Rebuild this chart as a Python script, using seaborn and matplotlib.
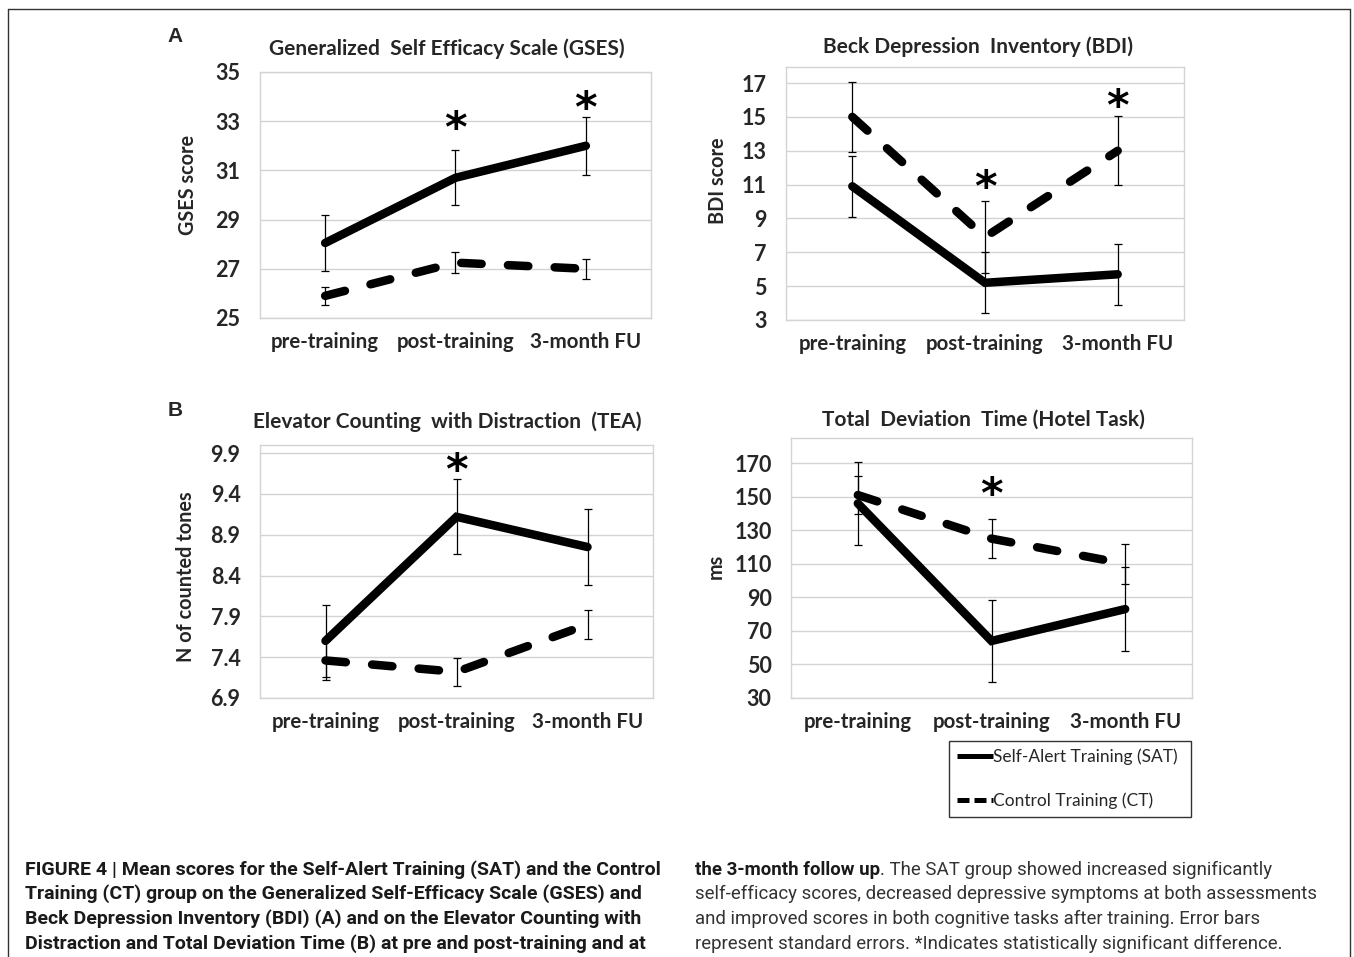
import matplotlib
matplotlib.use("Agg")
import matplotlib.pyplot as plt
from matplotlib.lines import Line2D
from matplotlib import font_manager
import seaborn as sns
import pandas as pd
import numpy as np

# ---------------- data ----------------
phases = ["pre-training", "post-training", "3-month FU"]
groups = ["Self-Alert Training (SAT)", "Control Training (CT)"]

gses_sat = [28.05, 30.7, 32.0]
gses_sat_err = [1.15, 1.12, 1.17]
gses_ct = [25.9, 27.25, 27.0]
gses_ct_err = [0.38, 0.42, 0.40]

bdi_sat = [10.9, 5.2, 5.7]
bdi_sat_err = [1.8, 1.8, 1.8]
bdi_ct = [15.0, 7.9, 13.0]
bdi_ct_err = [2.05, 2.15, 2.05]

tea_sat = [7.6, 9.12, 8.75]
tea_sat_err = [0.44, 0.46, 0.46]
tea_ct = [7.36, 7.22, 7.8]
tea_ct_err = [0.24, 0.17, 0.18]

hotel_sat = [146, 64, 83]
hotel_sat_err = [24.5, 24.5, 25.0]
hotel_ct = [151, 125, 110]
hotel_ct_err = [11.5, 11.5, 12.0]

titles = ["Generalized  Self Efficacy Scale (GSES)", "Beck Depression  Inventory (BDI)",
          "Elevator Counting  with Distraction  (TEA)", "Total  Deviation  Time (Hotel Task)"]
ylabels = ["GSES score", "BDI score", "N of counted tones", "ms"]
yticks_list = [[25, 27, 29, 31, 33, 35], [3, 5, 7, 9, 11, 13, 15, 17],
               [6.9, 7.4, 7.9, 8.4, 8.9, 9.4, 9.9], [30, 50, 70, 90, 110, 130, 150, 170]]
ytick_labels = [["25", "27", "29", "31", "33", "35"], ["3", "5", "7", "9", "11", "13", "15", "17"],
                ["6.9", "7.4", "7.9", "8.4", "8.9", "9.4", "9.9"],
                ["30", "50", "70", "90", "110", "130", "150", "170"]]
ylims = [(25, 35), (3, 17.95), (6.9, 10.0), (30, 185)]
# significance stars: (panel, phase index, y value)
stars = [(0, 1, 33.05), (0, 2, 33.85), (1, 1, 11.3), (1, 2, 16.1), (2, 1, 9.79), (3, 1, 156)]

caption_left = ["FIGURE 4 | Mean scores for the Self-Alert Training (SAT) and the Control",
                "Training (CT) group on the Generalized Self-Efficacy Scale (GSES) and",
                "Beck Depression Inventory (BDI) (A) and on the Elevator Counting with",
                "Distraction and Total Deviation Time (B) at pre and post-training and at"]
caption_right_bold = "the 3-month follow up"
caption_right = [". The SAT group showed increased significantly",
                 "self-efficacy scores, decreased depressive symptoms at both assessments",
                 "and improved scores in both cognitive tasks after training. Error bars",
                 "represent standard errors. *Indicates statistically significant difference."]

panels = [
    (gses_sat, gses_sat_err, gses_ct, gses_ct_err),
    (bdi_sat, bdi_sat_err, bdi_ct, bdi_ct_err),
    (tea_sat, tea_sat_err, tea_ct, tea_ct_err),
    (hotel_sat, hotel_sat_err, hotel_ct, hotel_ct_err),
]

# ---------------- style ----------------
sns.set_theme(style="white")
avail = {f.name for f in font_manager.fontManager.ttflist}
main_font = "Lato" if "Lato" in avail else "DejaVu Sans"
cap_font = "Liberation Sans Narrow" if "Liberation Sans Narrow" in avail else (
    "Roboto" if "Roboto" in avail else "DejaVu Sans")
plt.rcParams["font.family"] = [main_font, "DejaVu Sans"]

W, H = 1354, 957
fig = plt.figure(figsize=(W / 100, H / 100), dpi=100)
fig.patch.set_facecolor("white")


def fx(x):
    return x / W


def fy(y):
    return 1 - y / H


# axes boxes in pixels: left, top, right, bottom
boxes = [(260, 72, 651, 318), (786, 67, 1184, 320), (260, 445, 653, 698), (791, 438, 1192, 698)]
title_pos = [(447, 49), (978, 47), (447, 422), (983, 420)]
ylabel_pos = [(188, 185), (718, 181), (186, 577), (716, 566)]

lw_px = 8.5
lw = lw_px * 72 / 100
grid_col = "#d3d3d3"

for i, (box, data) in enumerate(zip(boxes, panels)):
    l, t, r, b = box
    ax = fig.add_axes([fx(l), fy(b), (r - l) / W, (b - t) / H])
    sat, sat_e, ct, ct_e = data
    df = pd.DataFrame({
        "phase": phases * 2,
        "value": list(sat) + list(ct),
        "group": [groups[0]] * 3 + [groups[1]] * 3,
    })
    sns.lineplot(data=df, x="phase", y="value", hue="group", style="group",
                 palette=["black", "black"], dashes=[(), (2.4, 3.1)],
                 linewidth=lw, legend=False, ax=ax, sort=False)
    for ln in ax.get_lines():
        ln.set_dash_capstyle("round")
        ln.set_solid_capstyle("round")
        ln.set_solid_joinstyle("miter")
    xs = np.arange(len(phases))
    ax.errorbar(xs, sat, yerr=sat_e, fmt="none", ecolor="black", elinewidth=0.9,
                capsize=3.2, capthick=0.9, zorder=5)
    ax.errorbar(xs, ct, yerr=ct_e, fmt="none", ecolor="black", elinewidth=0.9,
                capsize=3.2, capthick=0.9, zorder=5)
    ax.set_xlim(-0.5, 2.5)
    ax.set_ylim(*ylims[i])
    ax.set_yticks(yticks_list[i])
    ax.set_yticklabels(ytick_labels[i], fontsize=15.5, fontweight="bold")
    ax.set_xticks(xs)
    ax.set_xticklabels(phases, fontsize=14.8, fontweight="bold")
    ax.tick_params(axis="y", length=0, pad=14)
    ax.tick_params(axis="x", length=0, pad=10)
    ax.set_xlabel("")
    ax.set_ylabel("")
    ax.yaxis.grid(True, color=grid_col, linewidth=1.0)
    ax.set_axisbelow(True)
    for sp in ax.spines.values():
        sp.set_color(grid_col)
        sp.set_linewidth(1.0)
    fig.text(fx(title_pos[i][0]), fy(title_pos[i][1]), titles[i], ha="center", va="center",
             fontsize=15, fontweight="bold")
    fig.text(fx(ylabel_pos[i][0]), fy(ylabel_pos[i][1]), ylabels[i], rotation=90, ha="center",
             va="center", fontsize=14.3, fontweight="bold")
    for (p, k, yv) in stars:
        if p == i:
            ax.annotate("*", (k, yv), xytext=(0, -7), textcoords="offset points",
                        ha="center", va="center", fontsize=31, fontweight="bold",
                        color="black", family=["DejaVu Sans"])

# panel letters
fig.text(fx(175), fy(37), "A", ha="center", va="center", fontsize=15, fontweight="bold",
         family=["Liberation Sans", "DejaVu Sans"])
fig.text(fx(175), fy(410), "B", ha="center", va="center", fontsize=15, fontweight="bold",
         family=["Liberation Sans", "DejaVu Sans"])

# legend
handles = [Line2D([], [], color="black", linewidth=5 * 72 / 100, solid_capstyle="butt"),
           Line2D([], [], color="black", linewidth=5 * 72 / 100, dashes=(2.4, 1.0),
                  dash_capstyle="butt")]
leg = fig.legend(handles, groups, loc="upper left",
                 bbox_to_anchor=(fx(949), fy(741), (1191 - 949) / W, 0.0),
                 mode="expand", frameon=True, fancybox=False, fontsize=12.5,
                 handlelength=2.1, handletextpad=0.0, labelspacing=1.55,
                 borderpad=0.45, borderaxespad=0.0)
leg.get_frame().set_edgecolor("black")
leg.get_frame().set_linewidth(1.0)

# figure border
for xs_, ys_ in [((8, 8), (H + 5, 9)), ((8, 1350), (9, 9)), ((1350, 1350), (9, H + 5))]:
    fig.add_artist(Line2D([fx(v) for v in xs_], [fy(v) for v in ys_], color="#333333",
                          linewidth=1.0))

# caption
cap_left_size = 14.0
cap_size = 13.4
line_y = [868, 892, 917, 942]
for s, yy in zip(caption_left, line_y):
    fig.text(fx(25), fy(yy), s, ha="left", va="center_baseline", fontsize=cap_left_size,
             fontweight="bold", family=[cap_font, "DejaVu Sans"], color="#1a1a1a")
tb = fig.text(fx(695), fy(line_y[0]), caption_right_bold, ha="left", va="center_baseline",
              fontsize=cap_size, fontweight="bold", family=[cap_font, "DejaVu Sans"],
              color="#1a1a1a")
fig.canvas.draw()
bb = tb.get_window_extent(renderer=fig.canvas.get_renderer())
fig.text(bb.x1 / W, fy(line_y[0]), caption_right[0], ha="left",
         va="center_baseline", fontsize=cap_size, family=[cap_font, "DejaVu Sans"],
         color="#333333")
for s, yy in zip(caption_right[1:], line_y[1:]):
    fig.text(fx(695), fy(yy), s, ha="left", va="center_baseline", fontsize=cap_size,
             family=[cap_font, "DejaVu Sans"], color="#333333")

fig.savefig("out.png", dpi=100)
